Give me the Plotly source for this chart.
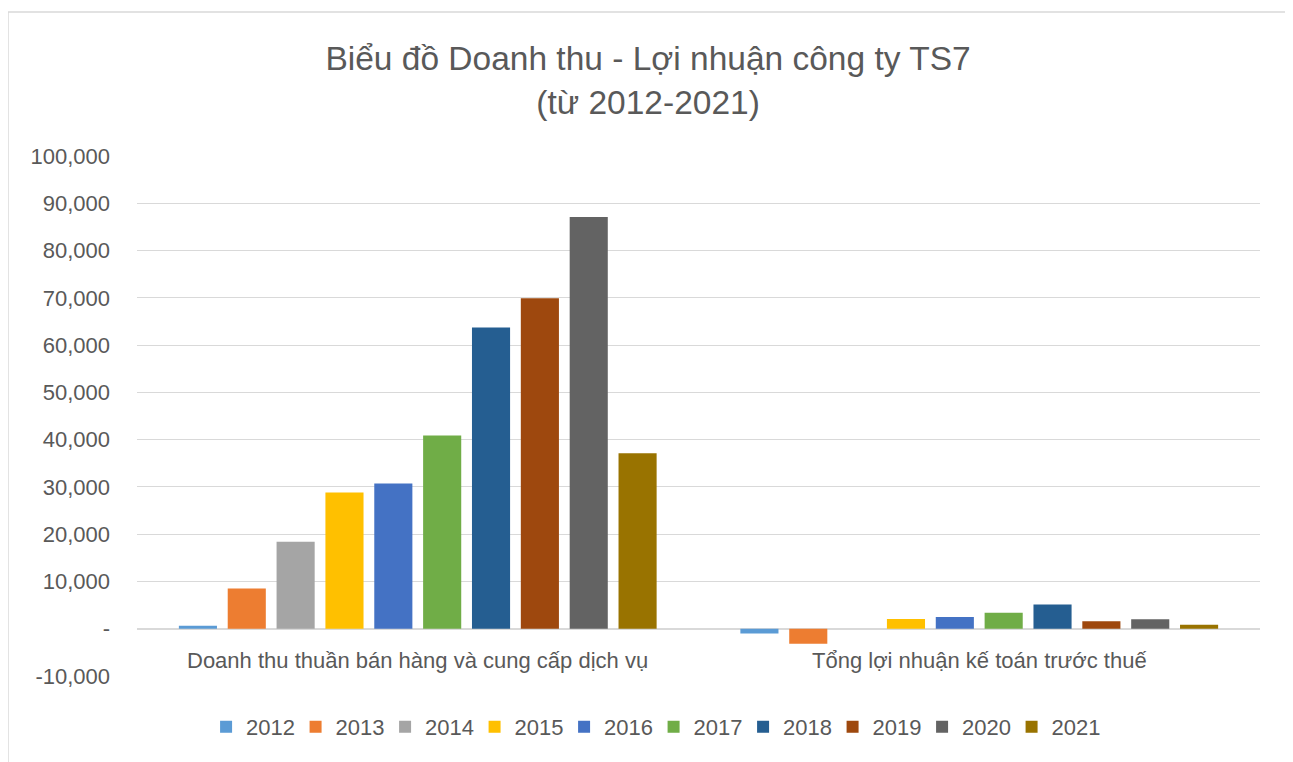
import plotly.graph_objects as go

categories = ["Doanh thu thuần bán hàng và cung cấp dịch vụ", "Tổng lợi nhuận kế toán trước thuế"]
years = ["2012", "2013", "2014", "2015", "2016", "2017", "2018", "2019", "2020", "2021"]
revenue = [650, 8500, 18400, 28800, 30700, 40900, 63700, 69900, 87100, 37100]
profit = [-1000, -3200, 0, 2050, 2500, 3400, 5100, 1600, 2000, 850]
colors = ["#5B9BD5", "#ED7D31", "#A5A5A5", "#FFC000", "#4472C4", "#70AD47",
          "#255E91", "#9E480E", "#636363", "#997300"]
tick_vals = [-10000, 0, 10000, 20000, 30000, 40000, 50000, 60000, 70000, 80000, 90000, 100000]
tick_text = ["-10,000", "-", "10,000", "20,000", "30,000", "40,000", "50,000",
             "60,000", "70,000", "80,000", "90,000", "100,000"]

FONT = "Liberation Sans"
GREY = "#595959"

fig = go.Figure()
for i, y in enumerate(years):
    fig.add_trace(go.Bar(
        x=categories, y=[revenue[i], profit[i]], name=y,
        marker=dict(color=colors[i], line=dict(width=0)),
    ))

for c in categories:
    fig.add_annotation(x=c, y=0, xref="x", yref="y", text=c, showarrow=False,
                       yanchor="middle", yshift=-32,
                       font=dict(family=FONT, size=22, color=GREY))

# chart area border
fig.add_shape(type="rect", xref="paper", yref="paper",
              x0=-0.1149, x1=1.0249, y0=-0.19, y1=1.277,
              line=dict(color="#D9D9D9", width=1.5), fillcolor="rgba(0,0,0,0)", layer="below")

fig.update_layout(
    width=1293, height=762,
    margin=dict(l=129, r=41, t=148, b=94, autoexpand=False),
    paper_bgcolor="white", plot_bgcolor="white",
    title=dict(text="Biểu đồ Doanh thu - Lợi nhuận công ty TS7<br>(từ 2012-2021)",
               x=0.495, xanchor="center", y=0.918, yanchor="middle",
               font=dict(family=FONT, size=33.5, color=GREY)),
    barmode="group", bargap=0.13, bargroupgap=0.22,
    font=dict(family=FONT, color=GREY),
    legend=dict(orientation="h", x=0.46, xanchor="center", y=-0.098, yanchor="middle",
                font=dict(family=FONT, size=22, color=GREY), traceorder="normal",
                itemwidth=30, entrywidth=44.5, entrywidthmode="pixels"),
    xaxis=dict(showticklabels=False, showgrid=False, zeroline=False, showline=False,
               ticks=""),
    yaxis=dict(range=[-10000, 100000], tickvals=tick_vals, ticktext=tick_text,
               showgrid=True, gridcolor="#D9D9D9", gridwidth=1,
               zeroline=True, zerolinecolor="#D9D9D9", zerolinewidth=2,
               tickfont=dict(family=FONT, size=22, color=GREY), ticks="",
               ticklabelstandoff=26, showline=False),
)

fig.write_html("out.html")
